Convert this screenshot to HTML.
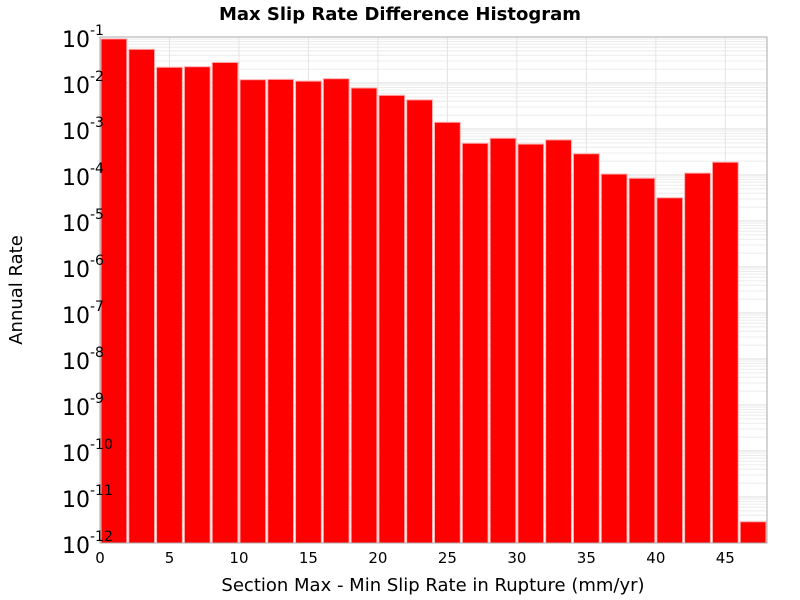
<!DOCTYPE html>
<html><head><meta charset="utf-8"><style>
body{margin:0;background:#fff;}
svg{display:block;font-family:"DejaVu Sans","Liberation Sans",sans-serif;}
</style></head><body>
<svg id="chart" width="800" height="600">
<text x="400" y="20" text-anchor="middle" font-size="18" font-weight="bold">Max Slip Rate Difference Histogram</text>
<text x="433" y="591" text-anchor="middle" font-size="18">Section Max - Min Slip Rate in Rupture (mm/yr)</text>
<text transform="translate(22,290) rotate(-90)" text-anchor="middle" font-size="18">Annual Rate</text>
<g id="grid"></g><g id="bars"></g><g id="axes"></g>
</svg>
<script>
const binStarts=[0,2,4,6,8,10,12,14,16,18,20,22,24,26,28,30,32,34,36,38,40,42,44,46];
const rates=[0.091,0.054,0.022,0.0226,0.028,0.0118,0.012,0.011,0.0124,0.0078,0.0054,0.0043,0.0014,4.9e-4,6.3e-4,4.7e-4,5.8e-4,2.9e-4,1.05e-4,8.5e-5,3.2e-5,1.1e-4,1.9e-4,2.9e-12];
const xTicks=[0,5,10,15,20,25,30,35,40,45];
const yExps=[-1,-2,-3,-4,-5,-6,-7,-8,-9,-10,-11,-12];
const binWidth=2;
const L=100,R=767,T=37,B=543,xMin=0,xMax=48,yTopExp=-1,yBotExp=-12;
const NS="http://www.w3.org/2000/svg";
function xs(v){return L+(v-xMin)/(xMax-xMin)*(R-L);}
function ys(v){return T+(yTopExp-Math.log10(v))/(yTopExp-yBotExp)*(B-T);}
function mk(tag,attrs,parent){const e=document.createElementNS(NS,tag);for(const k in attrs)e.setAttribute(k,attrs[k]);parent.appendChild(e);return e;}
const grid=document.getElementById('grid'),bars=document.getElementById('bars'),axes=document.getElementById('axes');
for(let e=yBotExp;e<yTopExp;e++){for(let m=1;m<10;m++){const y=ys(m*Math.pow(10,e));const l=mk('line',{x1:L,x2:R,y1:y,y2:y,stroke:m==1?'#ddd':'#ececec','stroke-width':1},grid);

}}
xTicks.forEach(t=>{const x=xs(t);const l=mk('line',{x1:x,x2:x,y1:T,y2:B,stroke:'#e4e4e4','stroke-width':1},grid);


const tx=mk('text',{x:x,y:B+20,'text-anchor':'middle','font-size':15},axes);tx.textContent=t;

});
binStarts.forEach((s,i)=>{const x0=xs(s)+1,x1=xs(s+binWidth)-1;const y=ys(rates[i]);
const r=mk('rect',{x:x0,y:y,width:x1-x0,height:B-y,fill:'#ff0000',stroke:'#ffb0b0','stroke-width':1},bars);

});
const f=mk('rect',{x:L,y:T,width:R-L,height:B-T,fill:'none',stroke:'#aaa','stroke-width':1},axes);


yExps.forEach(e=>{const y=ys(Math.pow(10,e));const t=mk('text',{x:62,y:y+10,'text-anchor':'start','font-size':22},axes);


t.appendChild(document.createTextNode('10'));const sp=mk('tspan',{dy:-12,'font-size':14},t);sp.textContent=e;});
</script>
</body></html>
